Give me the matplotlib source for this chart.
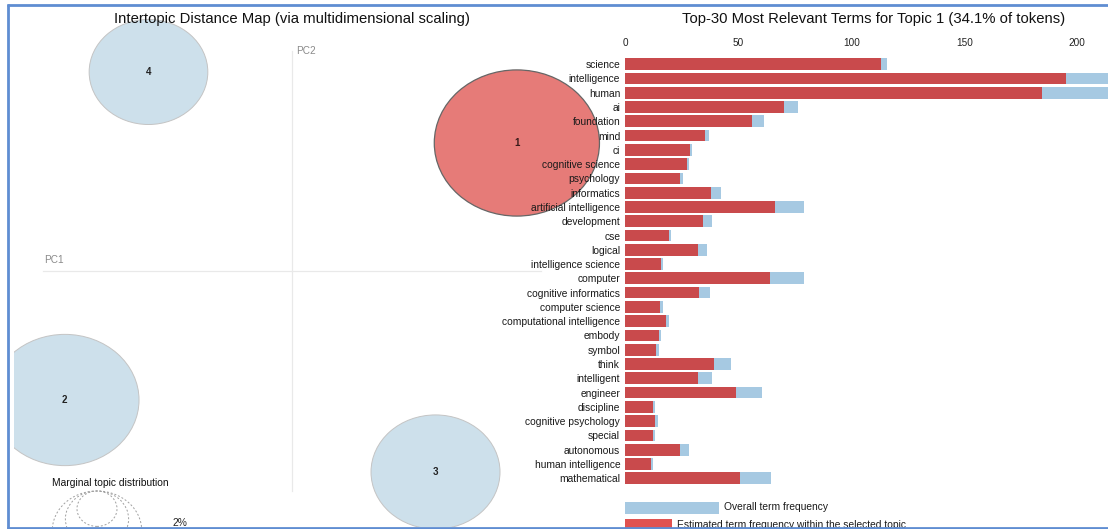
import numpy as np
import matplotlib
matplotlib.use("Agg")
import matplotlib.pyplot as plt
from matplotlib.patches import Ellipse, Rectangle

plt.rcParams['font.family'] = ['Liberation Sans', 'DejaVu Sans']

# ---------------- data ----------------
terms = ["science", "intelligence", "human", "ai", "foundation", "mind", "ci",
         "cognitive science", "psychology", "informatics", "artificial intelligence",
         "development", "cse", "logical", "intelligence science", "computer",
         "cognitive informatics", "computer science", "computational intelligence",
         "embody", "symbol", "think", "intelligent", "engineer", "discipline",
         "cognitive psychology", "special", "autonomous", "human intelligence",
         "mathematical"]
topic_freq = [113.3, 195.1, 184.3, 70.3, 56.1, 35.4, 28.8, 27.4, 24.4, 37.8,
              66.1, 34.2, 19.2, 32.1, 15.7, 64.2, 32.6, 15.3, 18.0, 14.8,
              13.8, 39.1, 32.3, 48.8, 12.4, 13.4, 12.2, 24.1, 11.5, 50.6]
overall_freq = [115.8, 240.0, 232.0, 76.5, 61.2, 37.1, 29.6, 28.2, 25.6, 42.4,
                79.2, 38.4, 20.1, 36.3, 16.6, 79.3, 37.7, 16.6, 19.5, 15.9,
                14.8, 46.9, 38.2, 60.7, 13.3, 14.6, 13.1, 28.2, 12.4, 64.7]
bar_ticks = [0, 50, 100, 150, 200]

topic_ids = [1, 2, 3, 4]
topic_pc1 = [0.199, -0.201, 0.127, -0.127]
topic_pc2 = [0.128, -0.129, -0.201, 0.199]
topic_pct = [34.1, 27.5, 20.8, 17.6]
selected_topic = 1
marginal_legend_pct = [2, 5, 10]

# ---------------- layout ----------------
W, H = 1108, 529
fig = plt.figure(figsize=(W / 100, H / 100), dpi=100)

def box(l, t, r, b):
    return [l / W, 1 - b / H, (r - l) / W, (b - t) / H]

SX, SY = 1130.0, 1000.0   # px per data unit in the MDS panel
CX, CY = 292.0, 271.0     # pixel position of the origin
BASE_R = 0.0177           # radius of a 2% circle
def rad(p):
    return BASE_R * np.sqrt(p / 2.0)

# ---------------- MDS panel ----------------
L, T, R, B = 14, 6, 610, 527
ax_m = fig.add_axes(box(L, T, R, B))
ax_m.set_xlim((L - CX) / SX, (R - CX) / SX)
ax_m.set_ylim((CY - B) / SY, (CY - T) / SY)
ax_m.axis('off')
ax_m.set_zorder(1)

ext = 0.22
ax_m.plot([-ext, ext], [0, 0], color='#e9e9e9', lw=0.9, zorder=0)
ax_m.plot([0, 0], [-ext, ext], color='#e9e9e9', lw=0.9, zorder=0)
ax_m.text(-ext + 0.0005, 0.006, "PC1", fontsize=7.2, color='#8a8a8a', ha='left', va='bottom')
ax_m.text(0.004, ext - 0.0005, "PC2", fontsize=7.2, color='#8a8a8a', ha='left', va='center')

for tid, x, y, p in zip(topic_ids, topic_pc1, topic_pc2, topic_pct):
    r = rad(p)
    if tid == selected_topic:
        fc, ec, lw = '#e67b78', '#666666', 0.9
    else:
        fc, ec, lw = '#cde0eb', '#c4c4c4', 0.7
    ax_m.add_patch(Ellipse((x, y), 2 * r, 2 * r, facecolor=fc, edgecolor=ec, lw=lw, zorder=2))
    ax_m.text(x, y, str(tid), fontsize=7, fontweight='bold',
              color='#3a1a1a' if tid == selected_topic else '#222222',
              ha='center', va='center', zorder=3)

# marginal topic distribution legend
leg_x = (97 - CX) / SX
for p in marginal_legend_pct:
    r = rad(p)
    ax_m.add_patch(Ellipse((leg_x, -ext - r), 2 * r, 2 * r, facecolor='none',
                           edgecolor='#a0a0a0', lw=0.7, ls=(0, (2, 2)), zorder=2))
r2 = rad(marginal_legend_pct[0])
ax_m.text((179.5 - CX) / SX, -ext - 2 * r2 + 0.003, f"{marginal_legend_pct[0]}%",
          fontsize=7.4, color='#222222', ha='center', va='center')
ax_m.text((110.6 - CX) / SX, -0.2117, "Marginal topic distribution", fontsize=7.4,
          color='#111111', ha='center', va='center')

# ---------------- bar panel ----------------
row = 14.276
y0 = 64.2
y_top = y0 - row / 2
y_bot = y0 + 29 * row + row / 2
x0px = 625.2
ppu = (1077.3 - 625.2) / 200.0
ax_b = fig.add_axes(box(x0px, y_top, W, y_bot))
ax_b.set_zorder(2)
ax_b.patch.set_visible(False)
pos = np.arange(len(terms))
ax_b.barh(pos, overall_freq, height=0.82, color='#a6c9e2', edgecolor='none')
ax_b.barh(pos, topic_freq, height=0.82, color='#c94a4c', edgecolor='none')
ax_b.set_xlim(0, (W - x0px) / ppu)
ax_b.set_ylim(len(terms) - 0.5, -0.5)
ax_b.set_yticks(pos)
ax_b.set_yticklabels(terms, fontsize=7.4, color='#1a1a1a')
ax_b.set_xticks(bar_ticks)
ax_b.set_xticklabels([str(t) for t in bar_ticks], fontsize=7.2, color='#222222')
ax_b.xaxis.tick_top()
ax_b.tick_params(axis='x', length=0, pad=6.5)
ax_b.tick_params(axis='y', length=0, pad=3.6)
for s in ax_b.spines.values():
    s.set_visible(False)

# ---------------- overlay (titles, legend, frame) ----------------
ax_o = fig.add_axes([0, 0, 1, 1])
ax_o.set_zorder(5)
ax_o.patch.set_visible(False)
ax_o.set_xlim(0, W)
ax_o.set_ylim(H, 0)
ax_o.axis('off')

ax_o.text(292, 19, "Intertopic Distance Map (via multidimensional scaling)",
          fontsize=10.7, color='#111111', ha='center', va='center')
ax_o.text(873.7, 19.3, f"Top-30 Most Relevant Terms for Topic {selected_topic} ({topic_pct[0]}% of tokens)",
          fontsize=10.7, color='#111111', ha='center', va='center')

ax_o.add_patch(Rectangle((625.2, 502.3), 93.4, 11.7, facecolor='#a6c9e2', edgecolor='none'))
ax_o.text(723.7, 507.5, "Overall term frequency", fontsize=7.4, color='#1a1a1a',
          ha='left', va='center')
ax_o.add_patch(Rectangle((625.2, 519), 46.5, 11.7, facecolor='#e05250', edgecolor='none'))
ax_o.text(676.8, 524.5, "Estimated term frequency within the selected topic", fontsize=7.4,
          color='#1a1a1a', ha='left', va='center')

# white margins outside frame
ax_o.add_patch(Rectangle((0, 527.5), W, 5, facecolor='white', edgecolor='none', zorder=8))
ax_o.add_patch(Rectangle((0, 0), 7, H, facecolor='white', edgecolor='none', zorder=8))
ax_o.add_patch(Rectangle((0, 0), W, 4.5, facecolor='white', edgecolor='none', zorder=8))
# frame
fc = '#5f8dd2'
ax_o.plot([7, W], [5.3, 5.3], color=fc, lw=2.0, solid_capstyle='butt', zorder=9)
ax_o.plot([7.5, 7.5], [4.3, 528.5], color=fc, lw=2.0, solid_capstyle='butt', zorder=9)
ax_o.plot([7, W], [527.5, 527.5], color=fc, lw=2.0, solid_capstyle='butt', zorder=9)

fig.savefig("out.png", dpi=100, facecolor='white')
